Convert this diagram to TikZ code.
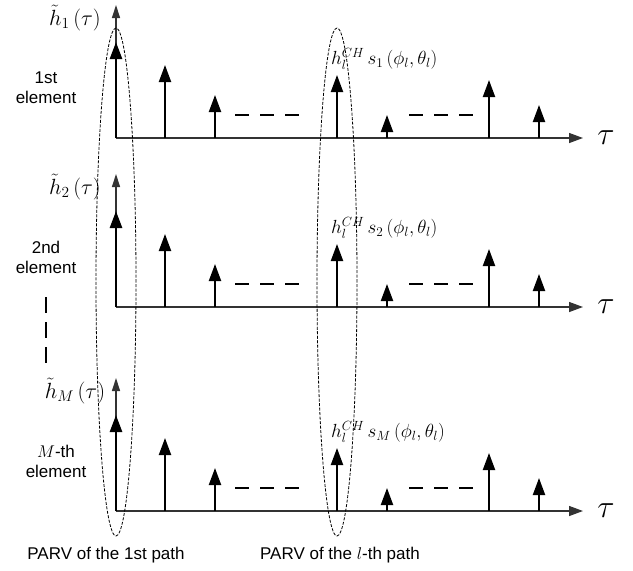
\documentclass[tikz,border=0pt]{standalone}
\usepackage{fix-cm}
\usepackage{amsmath}
\usepackage[no-math]{fontspec}
\setmainfont{Liberation Sans}
\usetikzlibrary{arrows.meta}
\tikzset{
  axisline/.style={line width=1.3pt, black!80},
  stem/.style={line width=2pt, -{Triangle[width=12pt,length=17pt]}},
  gapline/.style={line width=2pt, dash pattern=on 14pt off 11pt},
  parv/.style={line width=0.8pt, dash pattern=on 3pt off 1.5pt},
  sanslabel/.style={font=\fontsize{17}{20}\selectfont, align=center, inner sep=0pt},
  hlabel/.style={font=\fontsize{22}{24}\selectfont, inner sep=0pt},
  glabel/.style={font=\fontsize{19}{21}\selectfont, inner sep=0pt, anchor=west},
  taulabel/.style={font=\fontsize{32}{34}\selectfont, inner sep=0pt}
}
\begin{document}
\begin{tikzpicture}[x=1pt,y=-1pt]
        \useasboundingbox (0,0) rectangle (633,571);
		\foreach \ay/\k/\elem/\ex in {138/1/1st/46, 307/2/2nd/46, 511/M/{$M$-th}/56}{
		%#####################################################
		\draw[axisline,-{Triangle[width=10pt,length=14pt]}] (116,\ay) -- (583,\ay);
		\draw[axisline,-{Triangle[width=8pt,length=13pt]}] (116,\ay) -- (116,\ay-133);
		\draw[stem,line width=2.6pt] (116,\ay) -- (116,\ay-96);
		\foreach \sx/\sh in {165/73,215/43,337/63,387/23,489/58,539/33}{
		\draw[stem] (\sx,\ay) -- (\sx,\ay-\sh);
		}
		\draw[gapline] (235,\ay-23) -- (299,\ay-23);
		\draw[gapline] (409,\ay-23) -- (473,\ay-23);
		%#####################################################
		\node[hlabel] (h\k) at (75,\ay-120) {$\tilde{h}_{\k}\,(\tau)$};
		\node[glabel] (g\k) at (331,\ay-79) {$h_l^{CH}\,s_{\k}\,(\phi_l,\theta_l)$};
		\node[taulabel] (t\k) at (606,\ay) {$\tau$};
		\node[sanslabel] (e\k) at (\ex,\ay-50) {\elem\\element};
		}
        \draw[line width=2pt, dash pattern=on 16pt off 9pt] (46,297) -- (46,363);

		\draw[parv] (116,282) ellipse [x radius=20pt, y radius=254pt];
		\draw[parv] (337,282) ellipse [x radius=20pt, y radius=254pt];
		\node[sanslabel] (p1) at (106,555) {PARV of the 1st path};
		\node[sanslabel] (pl) at (340,555) {PARV of the $l$-th path};
		\end{tikzpicture}
\end{document}
